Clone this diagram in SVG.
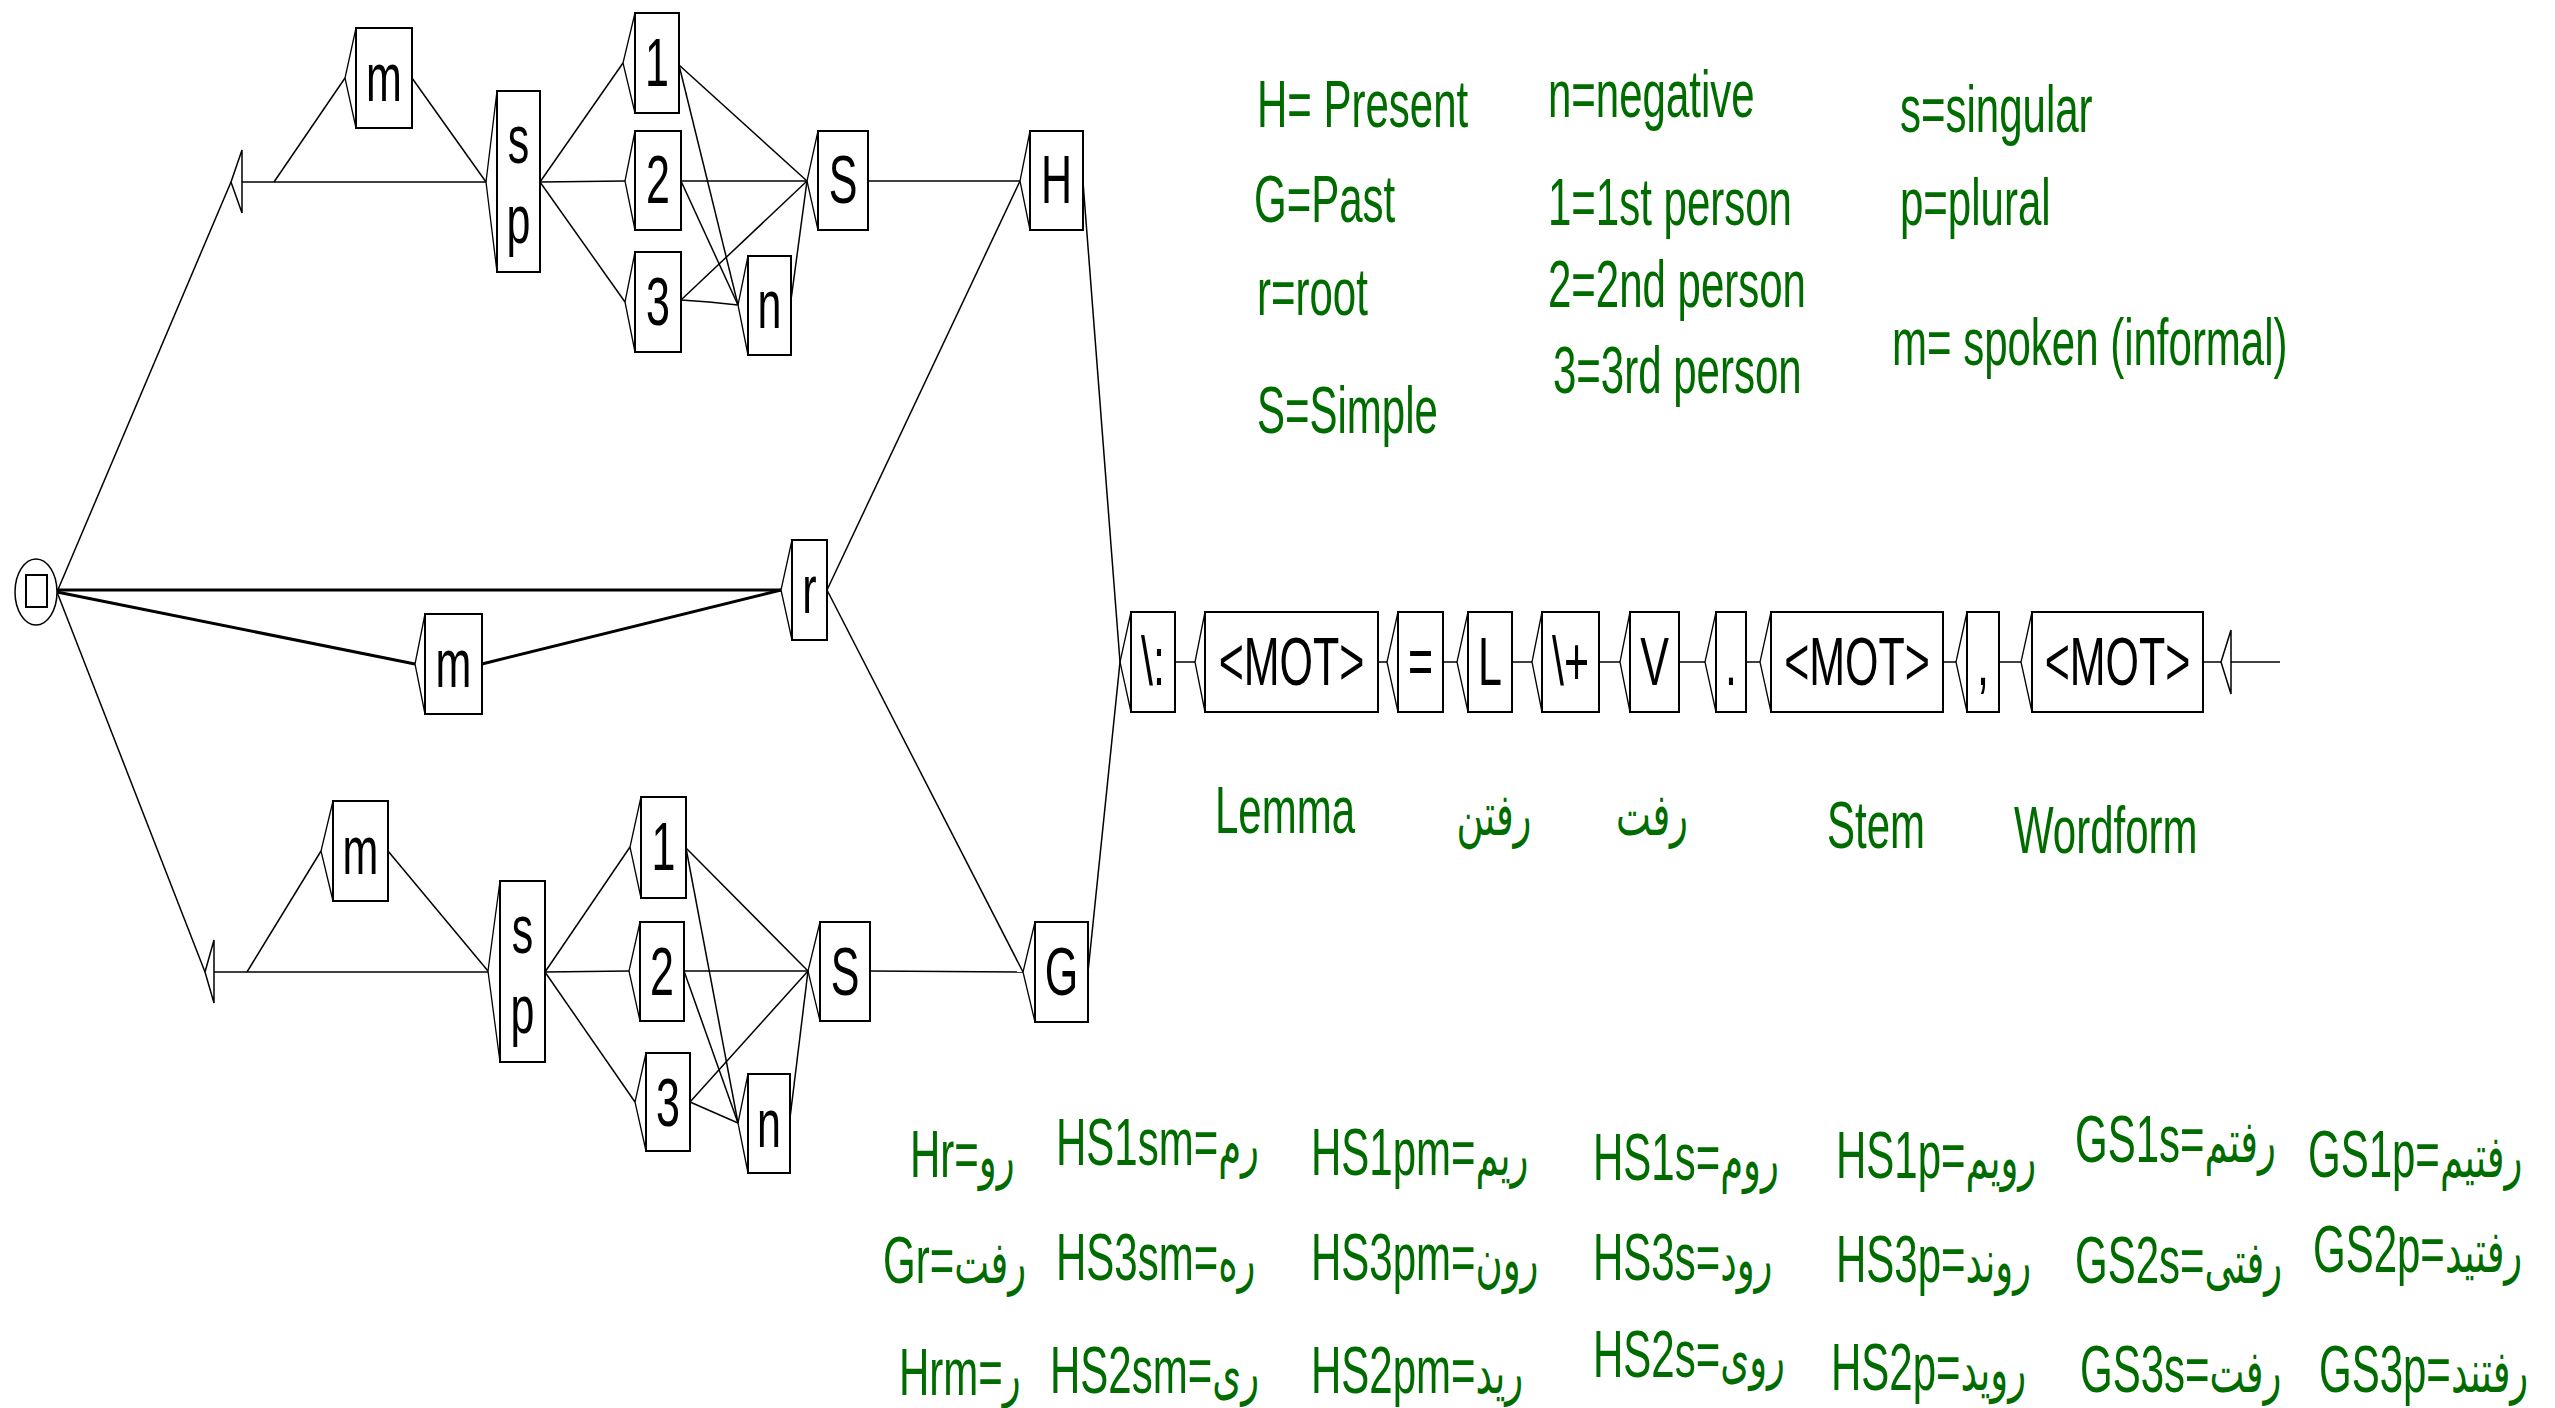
<svg xmlns="http://www.w3.org/2000/svg" width="2555" height="1408" viewBox="0 0 2555 1408">
<style>
  .box { fill: #fff; stroke: #000; stroke-width: 2; }
  .ent { fill: none; stroke: #000; stroke-width: 1.3; }
  .lbl { font-family: "Liberation Sans", Arial, sans-serif; font-size: 43px; fill: #000; text-anchor: middle; }
  .e { fill: none; stroke: #000; stroke-width: 1.5; }
  .thick { stroke-width: 3; }
  .note { font-family: "Liberation Sans", "DejaVu Sans", sans-serif; font-size: 42px; fill: #006c00; }
  .mid { text-anchor: middle; }
  .fa { font-size: 37px; }
</style>
<rect width="2555" height="1408" fill="#fff"/>

<!-- transitions -->
<g id="connectors">
  <!-- start state -->
  <line class="e" x1="57" y1="592" x2="231" y2="182"/>
  <line class="e" x1="57" y1="592" x2="205" y2="972"/>
  <line class="e thick" x1="57" y1="590" x2="781" y2="590"/>
  <line class="e thick" x1="57" y1="592" x2="415" y2="664"/>
  <line class="e thick" x1="482" y1="664" x2="781" y2="590"/>
  <!-- upper branch -->
  <line class="e" x1="242" y1="182" x2="486" y2="182"/>
  <line class="e" x1="274" y1="182" x2="345" y2="78"/>
  <line class="e" x1="412" y1="78" x2="486" y2="182"/>
  <line class="e" x1="540" y1="182" x2="623" y2="63"/>
  <line class="e" x1="540" y1="182" x2="625" y2="181"/>
  <line class="e" x1="540" y1="182" x2="625" y2="302"/>
  <line class="e" x1="679" y1="65" x2="807" y2="181"/>
  <line class="e" x1="679" y1="65" x2="738" y2="305"/>
  <line class="e" x1="681" y1="181" x2="807" y2="181"/>
  <line class="e" x1="681" y1="181" x2="738" y2="305"/>
  <line class="e" x1="681" y1="300" x2="807" y2="181"/>
  <polyline class="e" points="681,300 709,302 738,305"/>
  <line class="e" x1="791" y1="300" x2="807" y2="181"/>
  <line class="e" x1="868" y1="181" x2="1020" y2="181"/>
  <line class="e" x1="827" y1="590" x2="1020" y2="181"/>
  <line class="e" x1="1083" y1="182" x2="1120" y2="662"/>
  <!-- lower branch -->
  <line class="e" x1="214" y1="972" x2="488" y2="972"/>
  <line class="e" x1="247" y1="972" x2="321" y2="851"/>
  <line class="e" x1="388" y1="851" x2="488" y2="971"/>
  <line class="e" x1="545" y1="972" x2="630" y2="847"/>
  <line class="e" x1="545" y1="972" x2="629" y2="971"/>
  <line class="e" x1="545" y1="972" x2="635" y2="1102"/>
  <line class="e" x1="686" y1="848" x2="808" y2="971"/>
  <line class="e" x1="686" y1="848" x2="738" y2="1123"/>
  <line class="e" x1="684" y1="971" x2="808" y2="971"/>
  <line class="e" x1="684" y1="971" x2="738" y2="1123"/>
  <line class="e" x1="690" y1="1102" x2="808" y2="971"/>
  <line class="e" x1="690" y1="1102" x2="738" y2="1123"/>
  <line class="e" x1="790" y1="1118" x2="808" y2="971"/>
  <line class="e" x1="870" y1="971" x2="1023" y2="972"/>
  <line class="e" x1="827" y1="590" x2="1023" y2="972"/>
  <line class="e" x1="1088" y1="972" x2="1120" y2="662"/>
  <!-- main sequence -->
  <line class="e" x1="1175" y1="662" x2="1195" y2="662"/>
  <line class="e" x1="1378" y1="662" x2="1387" y2="662"/>
  <line class="e" x1="1443" y1="662" x2="1457" y2="662"/>
  <line class="e" x1="1512" y1="662" x2="1532" y2="662"/>
  <line class="e" x1="1599" y1="662" x2="1620" y2="662"/>
  <line class="e" x1="1679" y1="662" x2="1705" y2="662"/>
  <line class="e" x1="1746" y1="662" x2="1760" y2="662"/>
  <line class="e" x1="1943" y1="662" x2="1956" y2="662"/>
  <line class="e" x1="1999" y1="662" x2="2021" y2="662"/>
  <line class="e" x1="2203" y1="662" x2="2221" y2="662"/>
</g>

<!-- final state -->
<g id="final">
  <ellipse cx="36" cy="592" rx="21" ry="33" fill="#fff" stroke="#000" stroke-width="1.5"/>
  <rect x="26" y="575" width="21" height="32" fill="#fff" stroke="#000" stroke-width="2"/>
</g>

<!-- initial state -->
<g id="initial">
  <polygon class="e" points="2221,662 2231,630 2231,694"/>
  <line class="e" x1="2231" y1="662" x2="2280" y2="662"/>
</g>

<!-- empty boxes -->
<g id="eps-top"><polygon class="e" points="231,182 242,150 242,213"/></g>
<g id="eps-bottom"><polygon class="e" points="205,972 214,940 214,1003"/></g>

<!-- upper branch boxes -->
<g id="m-top"><polyline class="ent" points="356,28 345,78 356,128"/><rect class="box" x="356" y="28" width="56" height="100"/><text class="lbl" transform="translate(384,101) scale(1,1.6)">m</text></g>
<g id="sp-top"><polyline class="ent" points="497,91 486,182 497,272"/><rect class="box" x="497" y="91" width="43" height="181"/><text class="lbl" transform="translate(518.5,163) scale(1,1.6)">s</text><text class="lbl" transform="translate(518.5,243) scale(1,1.6)">p</text></g>
<g id="p1-top"><polyline class="ent" points="635,13 623,63 635,113"/><rect class="box" x="635" y="13" width="44" height="100"/><text class="lbl" transform="translate(657,86) scale(1,1.6)">1</text></g>
<g id="p2-top"><polyline class="ent" points="635,131 625,181 635,230"/><rect class="box" x="635" y="131" width="46" height="99"/><text class="lbl" transform="translate(658,203) scale(1,1.6)">2</text></g>
<g id="p3-top"><polyline class="ent" points="635,252 625,302 635,352"/><rect class="box" x="635" y="252" width="46" height="100"/><text class="lbl" transform="translate(658,325) scale(1,1.6)">3</text></g>
<g id="n-top"><polyline class="ent" points="748,256 738,305 748,355"/><rect class="box" x="748" y="256" width="43" height="99"/><text class="lbl" transform="translate(769.5,328) scale(1,1.6)">n</text></g>
<g id="S-top"><polyline class="ent" points="818,131 807,181 818,230"/><rect class="box" x="818" y="131" width="50" height="99"/><text class="lbl" transform="translate(843,203) scale(1,1.6)">S</text></g>
<g id="H"><polyline class="ent" points="1030,131 1020,181 1030,230"/><rect class="box" x="1030" y="131" width="53" height="99"/><text class="lbl" transform="translate(1056.5,203) scale(1,1.6)">H</text></g>

<!-- middle boxes -->
<g id="r"><polyline class="ent" points="792,540 781,590 792,640"/><rect class="box" x="792" y="540" width="35" height="100"/><text class="lbl" transform="translate(809.5,613) scale(1,1.6)">r</text></g>
<g id="m-mid"><polyline class="ent" points="425,614 415,664 425,714"/><rect class="box" x="425" y="614" width="57" height="100"/><text class="lbl" transform="translate(453.5,687) scale(1,1.6)">m</text></g>

<!-- lower branch boxes -->
<g id="m-bottom"><polyline class="ent" points="333,801 321,851 333,901"/><rect class="box" x="333" y="801" width="55" height="100"/><text class="lbl" transform="translate(360.5,874) scale(1,1.6)">m</text></g>
<g id="sp-bottom"><polyline class="ent" points="500,881 488,971 500,1062"/><rect class="box" x="500" y="881" width="45" height="181"/><text class="lbl" transform="translate(522.5,953) scale(1,1.6)">s</text><text class="lbl" transform="translate(522.5,1033) scale(1,1.6)">p</text></g>
<g id="p1-bottom"><polyline class="ent" points="641,797 630,847 641,898"/><rect class="box" x="641" y="797" width="45" height="101"/><text class="lbl" transform="translate(663.5,870) scale(1,1.6)">1</text></g>
<g id="p2-bottom"><polyline class="ent" points="640,922 629,971 640,1021"/><rect class="box" x="640" y="922" width="44" height="99"/><text class="lbl" transform="translate(662,995) scale(1,1.6)">2</text></g>
<g id="p3-bottom"><polyline class="ent" points="646,1053 635,1102 646,1151"/><rect class="box" x="646" y="1053" width="44" height="98"/><text class="lbl" transform="translate(668,1126) scale(1,1.6)">3</text></g>
<g id="n-bottom"><polyline class="ent" points="748,1074 738,1123 748,1173"/><rect class="box" x="748" y="1074" width="42" height="99"/><text class="lbl" transform="translate(769,1147) scale(1,1.6)">n</text></g>
<g id="S-bottom"><polyline class="ent" points="820,922 808,971 820,1021"/><rect class="box" x="820" y="922" width="50" height="99"/><text class="lbl" transform="translate(845,995) scale(1,1.6)">S</text></g>
<g id="G"><polyline class="ent" points="1035,922 1023,972 1035,1022"/><rect class="box" x="1035" y="922" width="53" height="100"/><text class="lbl" transform="translate(1061.5,995) scale(1,1.6)">G</text></g>

<!-- main sequence boxes -->
<g id="colon"><polyline class="ent" points="1131,612 1120,662 1131,712"/><rect class="box" x="1131" y="612" width="44" height="100"/><text class="lbl" transform="translate(1153,685) scale(1,1.6)">\:</text></g>
<g id="mot-lemma"><polyline class="ent" points="1205,612 1195,662 1205,712"/><rect class="box" x="1205" y="612" width="173" height="100"/><text class="lbl" transform="translate(1291.5,685) scale(1,1.6)">&lt;MOT&gt;</text></g>
<g id="equals"><polyline class="ent" points="1398,612 1387,662 1398,712"/><rect class="box" x="1398" y="612" width="45" height="100"/><text class="lbl" transform="translate(1420.5,685) scale(1,1.6)">=</text></g>
<g id="L"><polyline class="ent" points="1468,612 1457,662 1468,712"/><rect class="box" x="1468" y="612" width="44" height="100"/><text class="lbl" transform="translate(1490,685) scale(1,1.6)">L</text></g>
<g id="plus"><polyline class="ent" points="1542,612 1532,662 1542,712"/><rect class="box" x="1542" y="612" width="57" height="100"/><text class="lbl" transform="translate(1570.5,685) scale(1,1.6)">\+</text></g>
<g id="V"><polyline class="ent" points="1630,612 1620,662 1630,712"/><rect class="box" x="1630" y="612" width="49" height="100"/><text class="lbl" transform="translate(1654.5,685) scale(1,1.6)">V</text></g>
<g id="dot"><polyline class="ent" points="1716,612 1705,662 1716,712"/><rect class="box" x="1716" y="612" width="30" height="100"/><text class="lbl" transform="translate(1731,685) scale(1,1.6)">.</text></g>
<g id="mot-stem"><polyline class="ent" points="1771,612 1760,662 1771,712"/><rect class="box" x="1771" y="612" width="172" height="100"/><text class="lbl" transform="translate(1857,685) scale(1,1.6)">&lt;MOT&gt;</text></g>
<g id="comma"><polyline class="ent" points="1967,612 1956,662 1967,712"/><rect class="box" x="1967" y="612" width="32" height="100"/><text class="lbl" transform="translate(1983,685) scale(1,1.6)">,</text></g>
<g id="mot-form"><polyline class="ent" points="2032,612 2021,662 2032,712"/><rect class="box" x="2032" y="612" width="171" height="100"/><text class="lbl" transform="translate(2117.5,685) scale(1,1.6)">&lt;MOT&gt;</text></g>

<!-- legend -->
<g id="legend">
  <text class="note" transform="translate(1257,127) scale(1,1.6)">H= Present</text>
  <text class="note" transform="translate(1254,222) scale(1,1.6)">G=Past</text>
  <text class="note" transform="translate(1257,315) scale(1,1.6)">r=root</text>
  <text class="note" transform="translate(1257,433) scale(1,1.6)">S=Simple</text>
  <text class="note" transform="translate(1548,117) scale(1,1.6)">n=negative</text>
  <text class="note" transform="translate(1548,225) scale(1,1.6)">1=1st person</text>
  <text class="note" transform="translate(1548,307) scale(1,1.6)">2=2nd person</text>
  <text class="note" transform="translate(1553,393) scale(1,1.6)">3=3rd person</text>
  <text class="note" transform="translate(1900,132) scale(1,1.6)">s=singular</text>
  <text class="note" transform="translate(1900,225) scale(1,1.6)">p=plural</text>
  <text class="note" transform="translate(1892,365) scale(1,1.6)">m= spoken (informal)</text>
</g>

<!-- field labels under the sequence -->
<g id="fields">
  <text class="note" transform="translate(1215,833) scale(1,1.6)">Lemma</text>
  <text class="note mid fa" transform="translate(1494,835) scale(1,1.6)">رفتن</text>
  <text class="note mid fa" transform="translate(1652,835) scale(1,1.6)">رفت</text>
  <text class="note" transform="translate(1827,848) scale(1,1.6)">Stem</text>
  <text class="note" transform="translate(2014,853) scale(1,1.6)">Wordform</text>
</g>

<!-- inflection table -->
<g id="forms">
  <text class="note" transform="translate(910,1177) scale(1,1.6)">Hr=<tspan class="fa">رو</tspan></text>
  <text class="note" transform="translate(1056,1165) scale(1,1.6)">HS1sm=<tspan class="fa">رم</tspan></text>
  <text class="note" transform="translate(1311,1175) scale(1,1.6)">HS1pm=<tspan class="fa">ریم</tspan></text>
  <text class="note" transform="translate(1593,1180) scale(1,1.6)">HS1s=<tspan class="fa">روم</tspan></text>
  <text class="note" transform="translate(1836,1178) scale(1,1.6)">HS1p=<tspan class="fa">رویم</tspan></text>
  <text class="note" transform="translate(2075,1162) scale(1,1.6)">GS1s=<tspan class="fa">رفتم</tspan></text>
  <text class="note" transform="translate(2308,1177) scale(1,1.6)">GS1p=<tspan class="fa">رفتیم</tspan></text>

  <text class="note" transform="translate(883,1283) scale(1,1.6)">Gr=<tspan class="fa">رفت</tspan></text>
  <text class="note" transform="translate(1056,1280) scale(1,1.6)">HS3sm=<tspan class="fa">ره</tspan></text>
  <text class="note" transform="translate(1311,1280) scale(1,1.6)">HS3pm=<tspan class="fa">رون</tspan></text>
  <text class="note" transform="translate(1593,1280) scale(1,1.6)">HS3s=<tspan class="fa">رود</tspan></text>
  <text class="note" transform="translate(1836,1282) scale(1,1.6)">HS3p=<tspan class="fa">روند</tspan></text>
  <text class="note" transform="translate(2075,1283) scale(1,1.6)">GS2s=<tspan class="fa">رفتی</tspan></text>
  <text class="note" transform="translate(2313,1272) scale(1,1.6)">GS2p=<tspan class="fa">رفتید</tspan></text>

  <text class="note" transform="translate(899,1395) scale(1,1.6)">Hrm=<tspan class="fa">ر</tspan></text>
  <text class="note" transform="translate(1050,1393) scale(1,1.6)">HS2sm=<tspan class="fa">ری</tspan></text>
  <text class="note" transform="translate(1311,1393) scale(1,1.6)">HS2pm=<tspan class="fa">رید</tspan></text>
  <text class="note" transform="translate(1593,1377) scale(1,1.6)">HS2s=<tspan class="fa">روی</tspan></text>
  <text class="note" transform="translate(1831,1390) scale(1,1.6)">HS2p=<tspan class="fa">روید</tspan></text>
  <text class="note" transform="translate(2080,1392) scale(1,1.6)">GS3s=<tspan class="fa">رفت</tspan></text>
  <text class="note" transform="translate(2319,1392) scale(1,1.6)">GS3p=<tspan class="fa">رفتند</tspan></text>
</g>
</svg>
